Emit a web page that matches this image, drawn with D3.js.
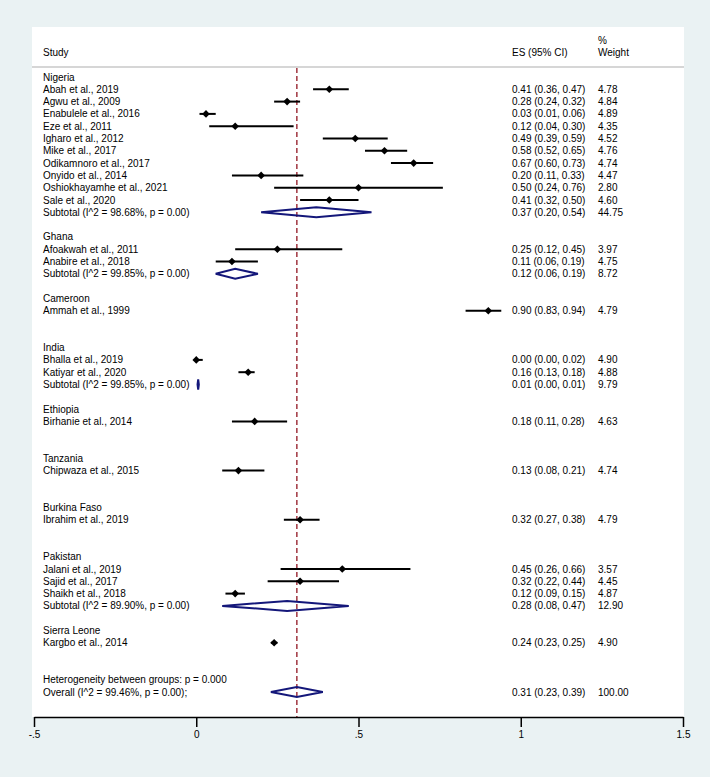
<!DOCTYPE html>
<html>
<head>
<meta charset="utf-8">
<script src="https://cdn.jsdelivr.net/npm/d3@7"></script>
<style>
  body { margin: 0; background: #eaf2f3; }
  svg text { font-family: "Liberation Sans", Arial, Helvetica, sans-serif; font-size: 10px; fill: #000; }
</style>
</head>
<body>
<div id="chart"></div>
<script>
// subgroup names, in plot order
const groups = ["Nigeria", "Ghana", "Cameroon", "India", "Ethiopia", "Tanzania", "Burkina Faso", "Pakistan", "Sierra Leone"];

// individual studies
const studyNames = [
  "Abah et al., 2019", "Agwu et al., 2009", "Enabulele et al., 2016", "Eze et al., 2011",
  "Igharo et al., 2012", "Mike et al., 2017", "Odikamnoro et al., 2017", "Onyido et al., 2014",
  "Oshiokhayamhe et al., 2021", "Sale et al., 2020",
  "Afoakwah et al., 2011", "Anabire et al., 2018",
  "Ammah et al., 1999",
  "Bhalla et al., 2019", "Katiyar et al., 2020",
  "Birhanie et al., 2014",
  "Chipwaza et al., 2015",
  "Ibrahim et al., 2019",
  "Jalani et al., 2019", "Sajid et al., 2017", "Shaikh et al., 2018",
  "Kargbo et al., 2014"
];
const studyGroup = [0,0,0,0,0,0,0,0,0,0, 1,1, 2, 3,3, 4, 5, 6, 7,7,7, 8];
const studyES  = [0.41, 0.28, 0.03, 0.12, 0.49, 0.58, 0.67, 0.20, 0.50, 0.41, 0.25, 0.11, 0.90, 0.00, 0.16, 0.18, 0.13, 0.32, 0.45, 0.32, 0.12, 0.24];
const studyLo  = [0.36, 0.24, 0.01, 0.04, 0.39, 0.52, 0.60, 0.11, 0.24, 0.32, 0.12, 0.06, 0.83, 0.00, 0.13, 0.11, 0.08, 0.27, 0.26, 0.22, 0.09, 0.23];
const studyHi  = [0.47, 0.32, 0.06, 0.30, 0.59, 0.65, 0.73, 0.33, 0.76, 0.50, 0.45, 0.19, 0.94, 0.02, 0.18, 0.28, 0.21, 0.38, 0.66, 0.44, 0.15, 0.25];
const studyWeight = [4.78, 4.84, 4.89, 4.35, 4.52, 4.76, 4.74, 4.47, 2.80, 4.60, 3.97, 4.75, 4.79, 4.90, 4.88, 4.63, 4.74, 4.79, 3.57, 4.45, 4.87, 4.90];

// subgroup pooled estimates (only groups with more than one study)
const subGroup  = [0, 1, 3, 7];
const subI2     = ["98.68%", "99.85%", "99.85%", "89.90%"];
const subES     = [0.37, 0.12, 0.006, 0.28];
const subLo     = [0.20, 0.06, 0.004, 0.08];
const subHi     = [0.54, 0.19, 0.008, 0.47];
const subWeight = [44.75, 8.72, 9.79, 12.90];

// overall
const overallES = 0.31, overallLo = 0.23, overallHi = 0.39, overallWeight = 100.00;
const overallLabel = "Overall  (I^2 = 99.46%, p = 0.00);";
const hetLabel = "Heterogeneity between groups: p = 0.000";

const xTicks = [-0.5, 0, 0.5, 1, 1.5];
const xTickLabels = ["-.5", "0", ".5", "1", "1.5"];

const width = 710, height = 777;
const f2 = d3.format(".2f");

// build the row layout: header, studies, subtotal slot, blank
let rows = [];
let r = 0;
groups.forEach((g, gi) => {
  rows.push({type: "group", row: r++, label: g});
  studyNames.forEach((s, i) => {
    if (studyGroup[i] === gi) rows.push({type: "study", row: r++, label: s, es: studyES[i], lo: studyLo[i], hi: studyHi[i], w: studyWeight[i]});
  });
  const si = subGroup.indexOf(gi);
  if (si >= 0) rows.push({type: "sub", row: r, label: "Subtotal  (I^2 = " + subI2[si] + ", p = 0.00)", es: subES[si], lo: subLo[si], hi: subHi[si], w: subWeight[si]});
  r += 2;
});
rows.push({type: "het", row: r++, label: hetLabel});
rows.push({type: "overall", row: r, label: overallLabel, es: overallES, lo: overallLo, hi: overallHi, w: overallWeight});

const x = d3.scaleLinear().domain([-0.5, 1.5]).range([34, 683]);
const y = d3.scaleLinear().domain([0, r]).range([77, 692]);

const svg = d3.select("#chart").append("svg")
  .attr("width", width)
  .attr("height", height);

// plot region
svg.append("rect").attr("x", 32).attr("y", 27).attr("width", 652).attr("height", 690).attr("fill", "#fff");

// headers
svg.append("text").attr("x", 43).attr("y", 52).attr("dy", "0.35em").text("Study");
svg.append("text").attr("x", 512).attr("y", 52).attr("dy", "0.35em").text("ES (95% CI)");
svg.append("text").attr("x", 598).attr("y", 40).attr("dy", "0.35em").text("%");
svg.append("text").attr("x", 598).attr("y", 52).attr("dy", "0.35em").text("Weight");
svg.append("line").attr("x1", 32).attr("x2", 684).attr("y1", 67).attr("y2", 67)
  .attr("stroke", "#c8c8c8").attr("stroke-width", 1.5);

// overall effect line
svg.append("line")
  .attr("x1", x(overallES)).attr("x2", x(overallES))
  .attr("y1", 68).attr("y2", 717)
  .attr("stroke", "#a0343f").attr("stroke-width", 1.5)
  .attr("stroke-dasharray", "5,3");

// labels
svg.selectAll("text.lab").data(rows).enter().append("text")
  .attr("class", "lab")
  .attr("x", 43).attr("y", d => y(d.row)).attr("dy", "0.35em")
  .text(d => d.label);

const est = rows.filter(d => d.es !== undefined);
svg.selectAll("text.es").data(est).enter().append("text")
  .attr("class", "es")
  .attr("x", 512).attr("y", d => y(d.row)).attr("dy", "0.35em")
  .text(d => f2(d.es) + " (" + f2(d.lo) + ", " + f2(d.hi) + ")");
svg.selectAll("text.wt").data(est).enter().append("text")
  .attr("class", "wt")
  .attr("x", 598).attr("y", d => y(d.row)).attr("dy", "0.35em")
  .text(d => f2(d.w));

// study CIs and markers
const studies = rows.filter(d => d.type === "study");
svg.selectAll("line.ci").data(studies).enter().append("line")
  .attr("class", "ci")
  .attr("x1", d => x(d.lo)).attr("x2", d => x(d.hi))
  .attr("y1", d => y(d.row)).attr("y2", d => y(d.row))
  .attr("stroke", "#000").attr("stroke-width", 2);
svg.selectAll("path.pt").data(studies).enter().append("path")
  .attr("class", "pt")
  .attr("d", d => {
    const cx = x(d.es), cy = y(d.row), s = 3.8;
    return `M${cx - s},${cy}L${cx},${cy - s}L${cx + s},${cy}L${cx},${cy + s}Z`;
  })
  .attr("fill", "#000");

// pooled diamonds
const pooled = rows.filter(d => d.type === "sub" || d.type === "overall");
svg.selectAll("path.dia").data(pooled).enter().append("path")
  .attr("class", "dia")
  .attr("d", d => {
    const cy = y(d.row), h = 5;
    return `M${x(d.lo)},${cy}L${x(d.es)},${cy - h}L${x(d.hi)},${cy}L${x(d.es)},${cy + h}Z`;
  })
  .attr("fill", "none").attr("stroke", "#14177a").attr("stroke-width", 2)
  .attr("stroke-linejoin", "miter");

// x axis
const axis = d3.axisBottom(x)
  .tickValues(xTicks)
  .tickFormat((d, i) => xTickLabels[i])
  .tickSize(10)
  .tickSizeOuter(0)
  .tickPadding(4);
const ax = svg.append("g").attr("transform", "translate(0,717)").call(axis);
ax.select(".domain").attr("stroke", "#000").attr("stroke-width", 1.5);
ax.selectAll(".tick line").attr("stroke", "#000").attr("stroke-width", 1.5);
ax.selectAll(".tick text").style("font-size", "10px").attr("fill", "#000");
</script>
</body>
</html>
